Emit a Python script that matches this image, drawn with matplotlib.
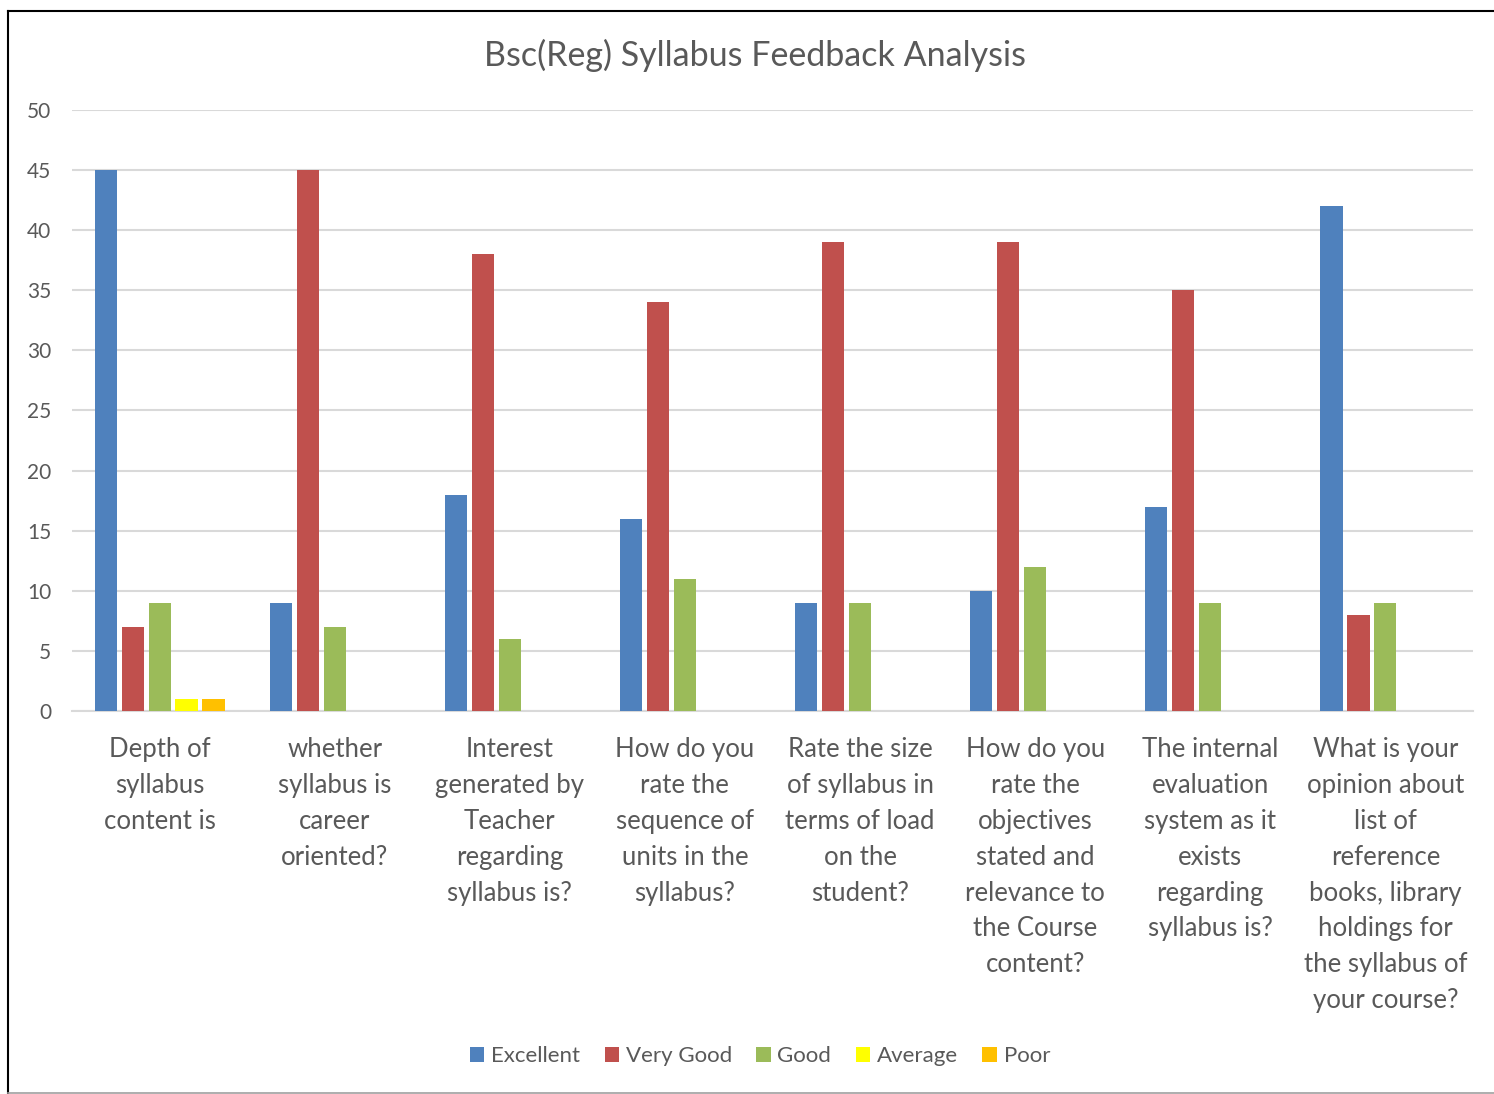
import matplotlib
matplotlib.use("Agg")
import matplotlib.pyplot as plt
import numpy as np
from matplotlib.lines import Line2D

plt.rcParams['font.family'] = ['Lato', 'DejaVu Sans']

categories = [
    "Depth of\nsyllabus\ncontent is",
    "whether\nsyllabus is\ncareer\noriented?",
    "Interest\ngenerated by\nTeacher\nregarding\nsyllabus is?",
    "How do you\nrate the\nsequence of\nunits in the\nsyllabus?",
    "Rate the size\nof syllabus in\nterms of load\non the\nstudent?",
    "How do you\nrate the\nobjectives\nstated and\nrelevance to\nthe Course\ncontent?",
    "The internal\nevaluation\nsystem as it\nexists\nregarding\nsyllabus is?",
    "What is your\nopinion about\nlist of\nreference\nbooks, library\nholdings for\nthe syllabus of\nyour course?",
]
series_names = ["Excellent", "Very Good", "Good", "Average", "Poor"]
excellent = [45, 9, 18, 16, 9, 10, 17, 42]
very_good = [7, 45, 38, 34, 39, 39, 35, 8]
good = [9, 7, 6, 11, 9, 12, 9, 9]
average = [1, 0, 0, 0, 0, 0, 0, 0]
poor = [1, 0, 0, 0, 0, 0, 0, 0]
colors = ["#4f81bd", "#c0504d", "#9bbb59", "#ffff00", "#ffc000"]

fig = plt.figure(figsize=(14.94, 10.94), dpi=100)
ax = fig.add_axes([72/1494, 1 - 711/1094, (1473-72)/1494, (711-110)/1094])

x = np.arange(len(categories))
pitch = 0.154
width = 0.126
for i, (vals, name, c) in enumerate(zip([excellent, very_good, good, average, poor], series_names, colors)):
    ax.bar(x + (i - 2) * pitch, vals, width, color=c, label=name, zorder=3)

ax.set_xlim(-0.5, len(categories) - 0.5)
ax.set_ylim(0, 50)
ax.set_yticks(range(0, 51, 5))
ax.yaxis.grid(True, color="#d9d9d9", linewidth=1.5, zorder=0)
ax.set_axisbelow(True)
for s in ["top", "right", "left"]:
    ax.spines[s].set_visible(False)
ax.spines["bottom"].set_color("#d9d9d9")
ax.spines["bottom"].set_linewidth(1.5)
ax.tick_params(axis="both", length=0, colors="#595959")
ax.tick_params(axis="y", labelsize=15, pad=15)
ax.set_xticks(x)
ax.set_xticklabels(categories, fontsize=18.5, color="#595959", linespacing=1.54, va="top")
ax.tick_params(axis="x", pad=19)

fig.text(755/1494, 1 - 55/1094, "Bsc(Reg) Syllabus Feedback Analysis", ha="center", va="center",
         fontsize=24.5, color="#595959")

handles, labels = ax.get_legend_handles_labels()
fig.legend(handles, labels, loc="center", bbox_to_anchor=(760/1494, 1 - 1056/1094), ncol=5,
           frameon=False, fontsize=16, handlelength=0.65, handleheight=0.65, handletextpad=0.3,
           columnspacing=1.1, labelcolor="#595959")

# outer border
fig.add_artist(Line2D([8/1494, 8/1494], [1 - 11/1094, 1 - 1093/1094], transform=fig.transFigure, color="black", linewidth=1.5))
fig.add_artist(Line2D([8/1494, 1.0], [1 - 11/1094, 1 - 11/1094], transform=fig.transFigure, color="black", linewidth=1.5))
fig.add_artist(Line2D([8/1494, 1.0], [1 - 1093/1094, 1 - 1093/1094], transform=fig.transFigure, color="#a0a0a0", linewidth=1.2))

fig.savefig("out.png", dpi=100)
